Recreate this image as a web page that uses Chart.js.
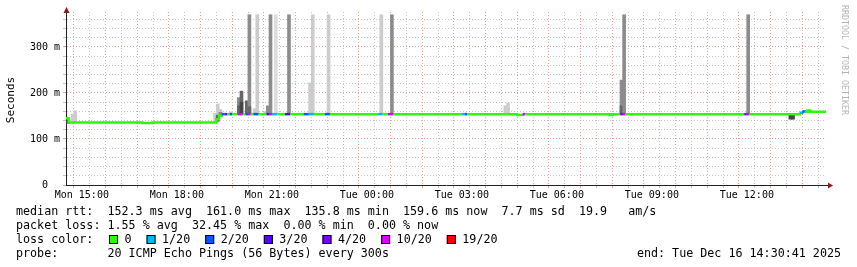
<!DOCTYPE html>
<html>
<head>
<meta charset="utf-8">
<script src="https://cdn.jsdelivr.net/npm/chart.js@4"></script>
<style>
  html, body { margin: 0; padding: 0; background: #fff; }
  #wrap { width: 857px; height: 267px; }
</style>
</head>
<body>
<div id="wrap"><canvas id="rtt" width="857" height="267"></canvas></div>
<script>
// median rtt, one entry per run of equal samples: start of run, median (ms), lost pings of 20
const runStart  = ['Mon 14:30','Mon 14:35','Mon 16:55','Mon 17:15','Mon 19:15','Mon 19:20','Mon 19:25','Mon 19:30',
                   'Mon 19:35','Mon 19:40','Mon 19:45','Mon 19:55','Mon 20:05','Mon 20:10','Mon 20:15','Mon 20:20',
                   'Mon 20:25','Mon 20:35','Mon 20:50','Mon 20:55','Mon 21:00','Mon 21:10','Mon 21:25','Mon 21:35',
                   'Mon 22:00','Mon 22:10','Mon 22:20','Mon 22:40','Mon 22:50','Tue 00:20','Tue 00:30','Tue 00:40',
                   'Tue 00:50','Tue 03:00','Tue 03:05','Tue 03:10','Tue 04:45','Tue 04:55','Tue 05:00','Tue 07:40',
                   'Tue 07:45','Tue 08:00','Tue 08:05','Tue 08:10','Tue 11:55','Tue 12:00','Tue 12:05','Tue 13:40',
                   'Tue 13:45','Tue 13:50','Tue 13:55','Tue 14:00'];
const runMedian = [145, 136, 135, 136, 143, 151, 154, 154,
                   154, 154, 154, 154, 154, 154, 154, 154,
                   154, 154, 154, 154, 154, 154, 154, 154,
                   154, 154, 154, 154, 154, 154, 154, 154,
                   154, 154, 154, 154, 152, 154, 154, 152,
                   154, 154, 154, 154, 154, 154, 154, 157,
                   160, 159, 162, 159];
const runLoss   = [0, 0, 0, 0, 0, 0, 2, 3,
                   0, 2, 0, 10, 0, 2, 10, 0,
                   2, 0, 3, 10, 1, 0, 3, 0,
                   2, 1, 0, 2, 0, 1, 0, 10,
                   0, 1, 2, 0, 0, 10, 0, 0,
                   0, 4, 10, 0, 4, 10, 0, 1,
                   2, 0, 0, 0];
const endTime = 'Tue 14:30';

// smoke: spread of the 20 pings in a 5 minute sample (ms), shade index
const smokeStart = ['Mon 14:30','Mon 14:40','Mon 14:45','Mon 19:10','Mon 19:15','Mon 19:15','Mon 19:20','Mon 19:20',
                    'Mon 19:40','Mon 19:55','Mon 19:55','Mon 20:00','Mon 20:00','Mon 20:10','Mon 20:15','Mon 20:15',
                    'Mon 20:25','Mon 20:30','Mon 20:45','Mon 20:50','Mon 20:55','Mon 21:05','Mon 21:30','Mon 22:10',
                    'Mon 22:15','Mon 22:45','Tue 00:25','Tue 00:45','Tue 04:20','Tue 04:25','Tue 08:00','Tue 08:00',
                    'Tue 08:05','Tue 12:00','Tue 13:20','Tue 13:25'];
const smokeLow   = [134, 137, 137, 136, 141, 138, 150, 150,
                    154, 154, 154, 154, 154, 154, 154, 154,
                    154, 154, 154, 154, 154, 154, 154, 154,
                    154, 154, 154, 154, 154, 154, 154, 154,
                    154, 154, 143, 143];
const smokeHigh  = [147, 154, 161, 156, 176, 152, 164, 158,
                    159, 190, 172, 204, 180, 183, 370, 170,
                    166, 370, 159, 172, 370, 370, 370, 222,
                    370, 370, 370, 370, 172, 178, 228, 172,
                    370, 370, 154, 154];
const smokeShade = [4, 1, 1, 1, 1, 3, 1, 2,
                    1, 2, 3, 3, 4, 3, 2, 3,
                    1, 1, 1, 2, 2, 0, 2, 1,
                    1, 1, 1, 2, 1, 1, 2, 3,
                    2, 2, 4, 4];
const shadeColors = ['#dddddd', '#cccccc', '#8c8c8c', '#666666', '#454545'];

const lossSteps  = [0, 1, 2, 3, 4, 10, 19];
const lossLabels = ['0', '1/20', '2/20', '3/20', '4/20', '10/20', '19/20'];
const lossColors = ['#26ff00', '#00b8ff', '#0059ff', '#5e00ff', '#7e00ff', '#dd00ff', '#ff0000'];

const statLines = [
  'median rtt:  152.3 ms avg  161.0 ms max  135.8 ms min  159.6 ms now  7.7 ms sd  19.9   am/s',
  'packet loss: 1.55 % avg  32.45 % max  0.00 % min  0.00 % now'
];
const probeLine = 'probe:       20 ICMP Echo Pings (56 Bytes) every 300s';
const endLine = 'end: Tue Dec 16 14:30:41 2025';

const MONO = '"DejaVu Sans Mono", monospace';
const GRID_MINOR = '#c4c4c4';
const GRID_MAJOR = '#e8a29a';

function hours(s) {
  const parts = s.split(' ');
  const hm = parts[1].split(':').map(Number);
  return (parts[0] === 'Tue' ? 24 : 0) + hm[0] + hm[1] / 60;
}
function lossColor(n) {
  let c = lossColors[0];
  lossSteps.forEach((s, i) => { if (n >= s) c = lossColors[i]; });
  return c;
}
function timeLabel(v) {
  const day = v >= 24 ? 'Tue' : 'Mon';
  const h = v % 24;
  return day + ' ' + String(h).padStart(2, '0') + ':00';
}

const linePoints = runStart.map((t, i) => ({ x: hours(t), y: runMedian[i] }));
linePoints.push({ x: hours(endTime), y: runMedian[runMedian.length - 1] });

const smokeBars = smokeStart.map((t, i) => ({ x: hours(t) + 2.5 / 60, y: [smokeLow[i], smokeHigh[i]] }));

const decor = {
  id: 'decor',
  afterDraw(chart) {
    const ctx = chart.ctx;
    const a = chart.chartArea;
    ctx.save();
    // axis arrows
    ctx.fillStyle = '#8b1a1a';
    ctx.beginPath();
    ctx.moveTo(a.left + 0.5, a.top - 5);
    ctx.lineTo(a.left - 2.5, a.top + 1);
    ctx.lineTo(a.left + 3.5, a.top + 1);
    ctx.closePath();
    ctx.fill();
    ctx.strokeStyle = '#222';
    ctx.lineWidth = 1;
    ctx.beginPath();
    ctx.moveTo(a.right, a.bottom + 0.5);
    ctx.lineTo(a.right + 3, a.bottom + 0.5);
    ctx.stroke();
    ctx.beginPath();
    ctx.moveTo(a.right + 7, a.bottom + 0.5);
    ctx.lineTo(a.right + 2, a.bottom - 2.5);
    ctx.lineTo(a.right + 2, a.bottom + 3.5);
    ctx.closePath();
    ctx.fill();

    // y title
    ctx.fillStyle = '#000';
    ctx.font = '11px ' + MONO;
    ctx.textAlign = 'center';
    ctx.textBaseline = 'middle';
    ctx.save();
    ctx.translate(11, 100);
    ctx.rotate(-Math.PI / 2);
    ctx.fillText('Seconds', 0, 0);
    ctx.restore();

    // watermark
    ctx.save();
    ctx.fillStyle = '#b4b4b4';
    ctx.font = '8.3px ' + MONO;
    ctx.textAlign = 'left';
    ctx.translate(844, 5);
    ctx.rotate(Math.PI / 2);
    ctx.fillText('RRDTOOL / TOBI OETIKER', 0, 0);
    ctx.restore();

    // legend block
    ctx.font = '11.7px ' + MONO;
    ctx.textAlign = 'left';
    ctx.fillStyle = '#000';
    ctx.fillText(statLines[0], 16, 211.5);
    ctx.fillText(statLines[1], 16, 225.5);
    ctx.fillText('loss color:', 16, 239.5);
    let x = 109;
    lossLabels.forEach((lab, i) => {
      ctx.fillStyle = lossColors[i];
      ctx.fillRect(x, 235, 9, 9);
      ctx.strokeStyle = '#000';
      ctx.strokeRect(x + 0.5, 235.5, 8, 8);
      ctx.fillStyle = '#000';
      ctx.fillText(lab, x + 15.5, 239.5);
      x += 15.5 + ctx.measureText(lab).width + 15;
    });
    ctx.fillText(probeLine, 16, 253.5);
    ctx.textAlign = 'right';
    ctx.fillText(endLine, 841, 253.5);
    ctx.restore();
  }
};

Chart.defaults.font.family = MONO;
Chart.defaults.color = '#000';

new Chart(document.getElementById('rtt'), {
  type: 'bar',
  data: {
    datasets: [
      {
        type: 'line',
        label: 'median rtt',
        data: linePoints,
        stepped: 'before',
        borderColor: lossColors[0],
        borderWidth: 2.5,
        pointRadius: 0,
        order: 1,
        segment: { borderColor: c => lossColor(runLoss[c.p0DataIndex]) }
      },
      {
        type: 'bar',
        label: 'smoke',
        data: smokeBars,
        backgroundColor: c => shadeColors[smokeShade[c.dataIndex]],
        borderWidth: 0,
        barThickness: 3,
        order: 2
      }
    ]
  },
  options: {
    responsive: false,
    devicePixelRatio: 1,
    animation: false,
    events: [],
    layout: { padding: { left: 0, top: 12, right: 31, bottom: 62 } },
    plugins: { legend: { display: false }, tooltip: { enabled: false } },
    scales: {
      x: {
        type: 'linear',
        min: hours(runStart[0]),
        max: hours(endTime),
        offset: false,
        afterFit: s => { s.height = 20; },
        ticks: {
          stepSize: 0.5,
          autoSkip: false,
          maxRotation: 0,
          padding: 1,
          font: { size: 10 },
          callback: v => (v % 3 === 0 ? timeLabel(v) : '')
        },
        grid: {
          color: c => (c.tick && Number.isInteger(c.tick.value) ? GRID_MAJOR : GRID_MINOR),
          tickLength: 3
        },
        border: { color: '#222', dash: [1, 2] }
      },
      y: {
        min: 0,
        max: 376,
        afterFit: s => { s.width = 66; },
        ticks: {
          stepSize: 20,
          autoSkip: false,
          includeBounds: false,
          padding: 3,
          font: { size: 10 },
          callback: v => (v === 0 ? '0  ' : (v % 100 === 0 ? v + ' m' : ''))
        },
        grid: {
          color: c => (c.tick && c.tick.value % 100 === 0 ? GRID_MAJOR : GRID_MINOR),
          tickLength: 3
        },
        border: { color: '#222', dash: [1, 2] }
      }
    }
  },
  plugins: [decor]
});
</script>
</body>
</html>
